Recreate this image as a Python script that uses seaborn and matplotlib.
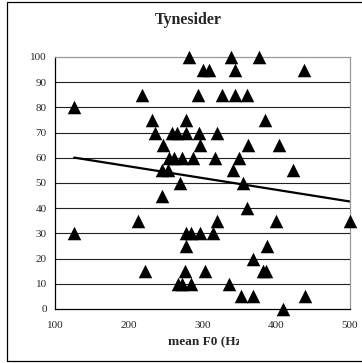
import numpy as np
import pandas as pd
import matplotlib
matplotlib.use("Agg")
import matplotlib.pyplot as plt
import seaborn as sns
from matplotlib.transforms import Bbox
from matplotlib.patches import Rectangle

# Data (mean F0 in Hz, score)
f0 = [282, 339, 377,
      301, 309, 344, 438,
      218, 294, 327, 344, 361,
      126,
      232, 277, 385,
      236, 258, 266, 278, 295, 319,
      246, 297, 362, 404,
      254, 261, 272, 287, 317, 349,
      245, 253, 342, 423,
      270, 355,
      245,
      360,
      212, 319, 399, 500,
      126, 278, 284, 296, 314,
      277, 387,
      368,
      222, 276, 304, 382, 386,
      267, 272, 285, 336,
      352, 369, 439,
      409]
score = [100, 100, 100,
         95, 95, 95, 95,
         85, 85, 85, 85, 85,
         80,
         75, 75, 75,
         70, 70, 70, 70, 70, 70,
         65, 65, 65, 65,
         60, 60, 60, 60, 60, 60,
         55, 55, 55, 55,
         50, 50,
         45,
         40,
         35, 35, 35, 35,
         30, 30, 30, 30, 30,
         25, 25,
         20,
         15, 15, 15, 15, 15,
         10, 10, 10, 10,
         5, 5, 5,
         0]
title = "Tynesiders"
xlabel = "mean F0 (Hz)"
xticks = [100, 200, 300, 400, 500]
yticks = [0, 10, 20, 30, 40, 50, 60, 70, 80, 90, 100]

df = pd.DataFrame({"f0": f0, "score": score})

sns.set_style("white")
plt.rcParams["font.family"] = ["Liberation Serif", "DejaVu Serif"]

W, H = 362, 363
fig = plt.figure(figsize=(W / 100, H / 100), dpi=100)
ax = fig.add_axes([55 / W, 1 - 309 / H, 295 / W, 252 / H])

# outer chart border
fig.patches.append(Rectangle((7 / W, 1 - 361 / H), 1.0, (361 - 2) / H,
                             transform=fig.transFigure, fill=False,
                             edgecolor="black", linewidth=0.9))

ax.set_xlim(100, 500)
ax.set_ylim(0, 100)
ax.set_xticks(xticks)
ax.set_yticks(yticks)
for y in yticks[1:-1]:
    ax.axhline(y, color="#222222", linewidth=0.8, zorder=0)

sns.scatterplot(data=df, x="f0", y="score", marker="^", s=95, color="black",
                edgecolor="black", linewidth=0, ax=ax, clip_on=False, zorder=3)
sns.regplot(data=df, x="f0", y="score", scatter=False, ci=None, truncate=True,
            color="black", line_kws={"linewidth": 1.6}, ax=ax)

for side in ["top", "right"]:
    ax.spines[side].set_color("#999999")
    ax.spines[side].set_linewidth(0.9)
for side in ["left", "bottom"]:
    ax.spines[side].set_color("black")
    ax.spines[side].set_linewidth(0.9)

ax.tick_params(axis="both", which="both", direction="out", length=4, width=0.8,
               color="black", labelsize=8, pad=2)
ax.tick_params(axis="x", pad=5)
ax.set_xlabel("")
ax.set_ylabel("")

t = fig.text(207 / W, 1 - 342 / H, xlabel, ha="center", va="center",
             fontsize=9.5, fontweight="bold")
t1 = fig.text(191 / W, 1 - 20 / H, title, ha="center", va="center",
              fontsize=11.5, fontweight="bold")

# Truncate texts like the reference (clipped in the original chart box)
t.set_clip_box(Bbox.from_extents(0, 0, 239, H))
t.set_clip_on(True)
t1.set_clip_box(Bbox.from_extents(0, 0, 221, H))
t1.set_clip_on(True)

fig.savefig("out.png", dpi=100)
